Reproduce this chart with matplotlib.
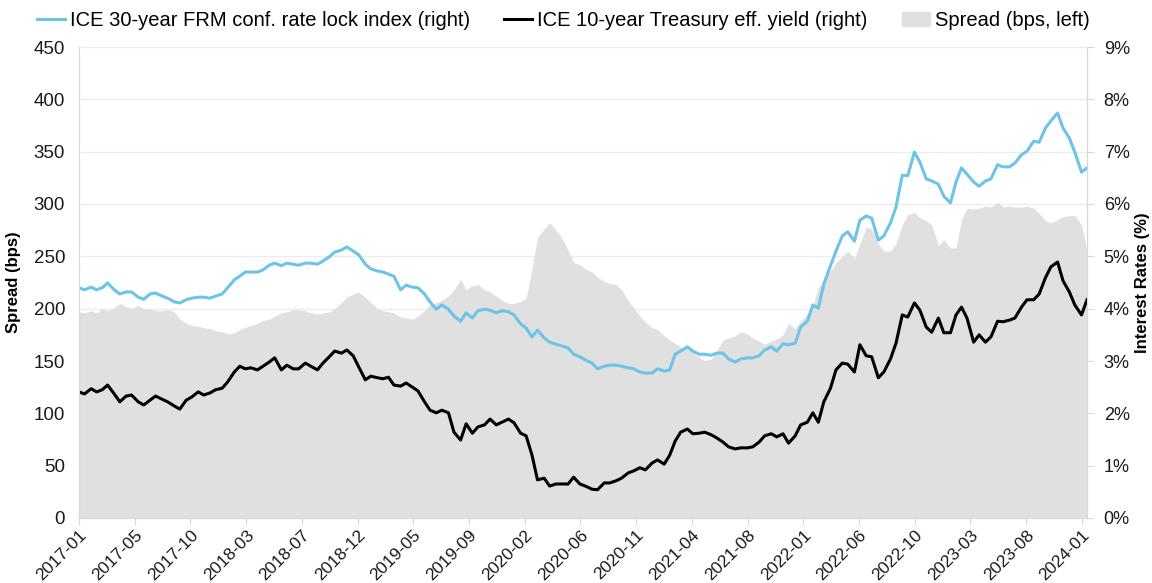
import pandas as pd
import matplotlib
matplotlib.use("Agg")
import matplotlib.pyplot as plt
from matplotlib.ticker import FuncFormatter
from matplotlib.lines import Line2D
from matplotlib.patches import Patch

plt.rcParams["font.family"] = ["Liberation Sans", "DejaVu Sans"]

# semi-monthly samples (1st and 15th)
dates = pd.date_range("2017-01-01", "2024-01-15", freq="SMS")

# ICE 30-year FRM conforming rate lock index, %
frm = [
    4.40, 4.36, 4.41, 4.36, 4.40, 4.49, 4.36, 4.28, 4.32, 4.32, 4.22, 4.18,
    4.28, 4.30, 4.24, 4.20, 4.13, 4.11, 4.17, 4.20, 4.22, 4.22, 4.20, 4.24,
    4.28, 4.40, 4.55, 4.62, 4.70, 4.70, 4.70, 4.74, 4.83, 4.87, 4.82, 4.87,
    4.85, 4.83, 4.87, 4.87, 4.85, 4.91, 4.99, 5.08, 5.12, 5.18, 5.10, 5.03,
    4.85, 4.76, 4.72, 4.70, 4.66, 4.62, 4.36, 4.45, 4.41, 4.40, 4.28, 4.13,
    3.99, 4.07, 3.99, 3.86, 3.76, 3.92, 3.82, 3.96, 3.99, 3.97, 3.92, 3.96,
    3.94, 3.88, 3.71, 3.63, 3.46, 3.59, 3.44, 3.36, 3.32, 3.29, 3.25, 3.13,
    3.08, 3.02, 2.96, 2.85, 2.90, 2.92, 2.92, 2.90, 2.87, 2.85, 2.79, 2.77,
    2.77, 2.85, 2.81, 2.83, 3.13, 3.19, 3.27, 3.19, 3.13, 3.13, 3.11, 3.15,
    3.15, 3.04, 2.98, 3.04, 3.06, 3.06, 3.10, 3.21, 3.27, 3.19, 3.33, 3.31,
    3.34, 3.65, 3.76, 4.07, 4.01, 4.47, 4.82, 5.10, 5.39, 5.47, 5.29, 5.69,
    5.77, 5.73, 5.31, 5.39, 5.64, 5.94, 6.55, 6.54, 6.99, 6.80, 6.48, 6.44,
    6.38, 6.15, 6.02, 6.42, 6.69, 6.57, 6.42, 6.34, 6.44, 6.48, 6.75, 6.71,
    6.71, 6.78, 6.94, 7.01, 7.20, 7.18, 7.45, 7.59, 7.74, 7.45, 7.26, 6.99,
    6.61, 6.69,
]

# ICE 10-year Treasury effective yield, %
ust = [
    2.41, 2.37, 2.47, 2.41, 2.45, 2.54, 2.37, 2.22, 2.33, 2.35, 2.22, 2.16,
    2.25, 2.33, 2.27, 2.22, 2.14, 2.08, 2.25, 2.31, 2.41, 2.35, 2.39, 2.45,
    2.48, 2.60, 2.79, 2.90, 2.85, 2.87, 2.83, 2.90, 2.98, 3.06, 2.83, 2.92,
    2.85, 2.85, 2.96, 2.90, 2.83, 2.96, 3.08, 3.19, 3.15, 3.21, 3.10, 2.89,
    2.64, 2.71, 2.68, 2.66, 2.69, 2.54, 2.52, 2.58, 2.50, 2.43, 2.22, 2.06,
    2.01, 2.06, 2.01, 1.64, 1.49, 1.80, 1.62, 1.74, 1.78, 1.89, 1.78, 1.83,
    1.89, 1.82, 1.62, 1.57, 1.20, 0.73, 0.76, 0.61, 0.65, 0.65, 0.65, 0.78,
    0.65, 0.61, 0.55, 0.54, 0.67, 0.67, 0.71, 0.76, 0.86, 0.90, 0.96, 0.92,
    1.05, 1.11, 1.03, 1.20, 1.47, 1.64, 1.70, 1.61, 1.62, 1.64, 1.59, 1.53,
    1.45, 1.36, 1.32, 1.34, 1.34, 1.36, 1.45, 1.57, 1.61, 1.55, 1.61, 1.43,
    1.57, 1.78, 1.83, 2.01, 1.83, 2.22, 2.48, 2.83, 2.96, 2.94, 2.79, 3.31,
    3.10, 3.08, 2.68, 2.79, 3.04, 3.34, 3.88, 3.84, 4.11, 3.97, 3.65, 3.55,
    3.82, 3.54, 3.54, 3.88, 4.03, 3.82, 3.36, 3.50, 3.36, 3.46, 3.76, 3.75,
    3.78, 3.82, 4.03, 4.17, 4.17, 4.28, 4.59, 4.80, 4.89, 4.53, 4.32, 4.07,
    3.88, 4.17,
]

# spread, bps
spread = [
    197, 196, 198, 196, 200, 198, 201, 205, 202, 200, 203, 200,
    200, 198, 198, 199, 197, 190, 186, 184, 183, 182, 181, 179,
    178, 176, 177, 180, 182, 184, 186, 189, 190, 193, 196, 197,
    199, 199, 198, 196, 195, 196, 197, 200, 206, 211, 214, 216,
    211, 206, 200, 198, 197, 196, 192, 191, 190, 193, 198, 204,
    206, 208, 212, 218, 228, 218, 222, 223, 218, 216, 212, 208,
    205, 205, 207, 210, 238, 268, 276, 282, 275, 268, 256, 244,
    242, 238, 235, 230, 226, 224, 223, 218, 208, 201, 193, 187,
    182, 180, 174, 170, 167, 163, 162, 158, 154, 150, 152, 160,
    170, 172, 174, 178, 176, 172, 169, 166, 169, 171, 175, 186,
    181, 188, 195, 203, 220, 228, 236, 244, 250, 255, 248, 262,
    278, 276, 262, 255, 255, 262, 280, 290, 292, 287, 284, 280,
    260, 266, 258, 258, 285, 296, 295, 296, 298, 297, 302, 297,
    298, 297, 297, 298, 296, 291, 284, 282, 285, 288, 289, 289,
    280, 256,
]

tick_labels = ["2017-01", "2017-05", "2017-10", "2018-03", "2018-07", "2018-12",
               "2019-05", "2019-09", "2020-02", "2020-06", "2020-11", "2021-04",
               "2021-08", "2022-01", "2022-06", "2022-10", "2023-03", "2023-08",
               "2024-01"]

BLUE = "#6ec3e8"
GREY = "#e0e0e0"
AXC = "#d9d9d9"
TXT = "#1a1a1a"

fig = plt.figure(figsize=(11.52, 5.83), dpi=100)
ax = fig.add_axes([79 / 1152, 1 - 518 / 583, (1087 - 79) / 1152, (518 - 47) / 583])
ax2 = ax.twinx()

ax.fill_between(dates, spread, 0, color=GREY, lw=0, zorder=1)
ax2.plot(dates, frm, color=BLUE, lw=2.2)
ax2.plot(dates, ust, color="black", lw=2.2)

ax.set_xlim(dates[0], dates[-1])
ax.set_ylim(0, 450)
ax2.set_ylim(0, 9)
ax.set_yticks(range(0, 451, 50))
ax2.set_yticks(range(0, 10))
ax2.yaxis.set_major_formatter(FuncFormatter(lambda v, p: f"{v:.0f}%"))

ticks = pd.date_range(dates[0], "2024-01-02", periods=len(tick_labels))
ax.set_xticks(ticks)
ax.set_xticklabels(tick_labels, rotation=45, ha="right", rotation_mode="anchor")

ax.set_axisbelow(True)
ax.yaxis.grid(True, color="#ececec", lw=1)
for a in (ax, ax2):
    a.spines["top"].set_visible(False)
    for s in ("left", "bottom", "right"):
        a.spines[s].set_color(AXC)
ax.tick_params(axis="y", length=0, labelsize=13.5, pad=10, colors=TXT)
ax.tick_params(axis="x", length=5, color=AXC, labelsize=12.5, pad=2, labelcolor=TXT)
ax2.tick_params(axis="y", length=5, color=AXC, labelsize=13, pad=7, labelcolor=TXT)

ax.set_ylabel("Spread (bps)", fontsize=12, fontweight="bold")
ax2.set_ylabel("Interest Rates (%)", fontsize=12, fontweight="bold")
ax.yaxis.set_label_coords(-0.058, 0.5)
ax2.yaxis.set_label_coords(1.048, 0.5)

handles = [Line2D([], [], color=BLUE, lw=2.2),
           Line2D([], [], color="black", lw=2.2),
           Patch(color=GREY)]
labels = ["ICE 30-year FRM conf. rate lock index (right)",
          "ICE 10-year Treasury eff. yield (right)",
          "Spread (bps, left)"]
fig.legend(handles, labels, loc="upper center", bbox_to_anchor=(0.489, 1.012), ncol=3,
           frameon=False, fontsize=14.5, handlelength=1.4, handletextpad=0.25,
           columnspacing=1.7)

fig.savefig("out.png", dpi=100)
